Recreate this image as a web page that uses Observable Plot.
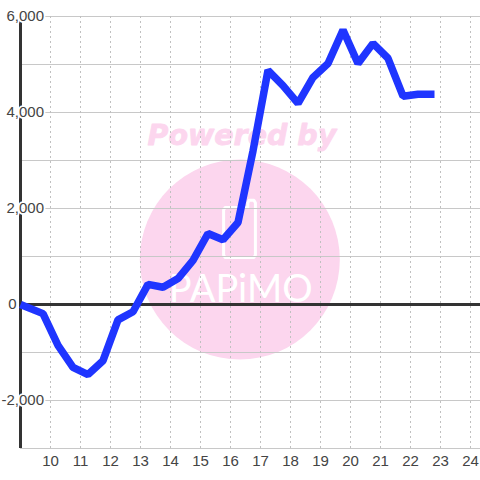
<!DOCTYPE html>
<html>
<head>
<meta charset="utf-8">
<script src="https://cdn.jsdelivr.net/npm/d3@7"></script>
<script src="https://cdn.jsdelivr.net/npm/@observablehq/plot@0.6"></script>
<style>html,body{margin:0;padding:0;background:#fff}svg{display:block}</style>
</head>
<body>
<div id="chart"></div>
<script>
const hours = [9,9.75,10.25,10.75,11.25,11.75,12.25,12.75,13.25,13.75,14.25,14.75,15.25,15.75,16.25,16.75,17.25,17.75,18.25,18.75,19.25,19.75,20.25,20.75,21.25,21.75,22.25,22.8];
const values = [0,-190,-850,-1310,-1460,-1170,-320,-150,420,360,540,920,1480,1350,1710,3200,4880,4560,4190,4730,5020,5720,5020,5440,5130,4340,4380,4380];
const xTicks = [10,11,12,13,14,15,16,17,18,19,20,21,22,23,24];
const yLabels = [-2000,2000,4000,6000];
const zeroLabel = [0];
const yGrid = [-3000,-2000,-1000,1000,2000,3000,4000,5000,6000];
const phoneX = [16.3,15.82,15.77,15.77,15.82,16.78,16.83,16.83,16.78,16.62,16.58,16.58,15.82];
const phoneY = [2020,2020,1970,1030,980,980,1030,2120,2170,2170,2120,2020,2020];
const fmt = d => d3.format(",")(d).replace("\u2212","-");

const data = hours.map((h,i)=>({h, v: values[i]}));
const phone = phoneX.map((x,i)=>({x, y: phoneY[i]}));

const plot = Plot.plot({
  width: 480, height: 480,
  marginLeft: 20, marginRight: 0, marginTop: 16, marginBottom: 32,
  x: {domain: [9, 24.333], axis: null},
  y: {domain: [-3000, 6000], axis: null},
  style: {background: "#fff", fontFamily: "'Liberation Sans', Arial, sans-serif"},
  marks: [
    Plot.dot([{x:16.31,y:937}], {x:"x", y:"y", r:100, fill:"#fcd6ee", stroke:"none"}),
    Plot.text(["Powered by"], {x:[16.38], y:[3520], fontSize:28.5, fontWeight:"bold", fontStyle:"italic", fontFamily:"'DejaVu Sans'", fill:"#fcd6ee", stroke:"#fcd6ee", strokeWidth:0.8}),
    Plot.line(phone, {x:"x", y:"y", stroke:"#fff", strokeWidth:3, strokeLinejoin:"round"}),
    Plot.text(["PAPiMO"], {x:[16.34], y:[300], fontSize:38, fontFamily:"Lato", fontWeight:400, fill:"#fff", letterSpacing:"3px"}),
    Plot.ruleY(yGrid, {stroke:"#c8c8c8", strokeWidth:1}),
    Plot.ruleX(xTicks, {stroke:"#c0c0c0", strokeWidth:1, strokeDasharray:"2,3"}),
    Plot.ruleX([9], {stroke:"#333", strokeWidth:3}),
    Plot.ruleY([0], {stroke:"#333", strokeWidth:3}),
    Plot.line(data, {x:"h", y:"v", stroke:"#1f35ff", strokeWidth:7.5, strokeLinejoin:"miter", strokeLinecap:"butt"}),
    Plot.axisY(yLabels, {anchor:"left", tickSize:0, tickPadding:-23.5, tickFormat:fmt, fontSize:15, fill:"#444", textStroke:"#fff", textStrokeWidth:3.5, textStrokeOpacity:1}),
    Plot.axisY(zeroLabel, {anchor:"left", tickSize:0, tickPadding:4, tickFormat:fmt, fontSize:15, fill:"#444"}),
    Plot.axisX(xTicks, {anchor:"bottom", tickSize:0, tickPadding:7, tickFormat:d=>String(d), fontSize:15, fill:"#444"})
  ]
});
document.getElementById("chart").appendChild(plot);
</script>
</body>
</html>
